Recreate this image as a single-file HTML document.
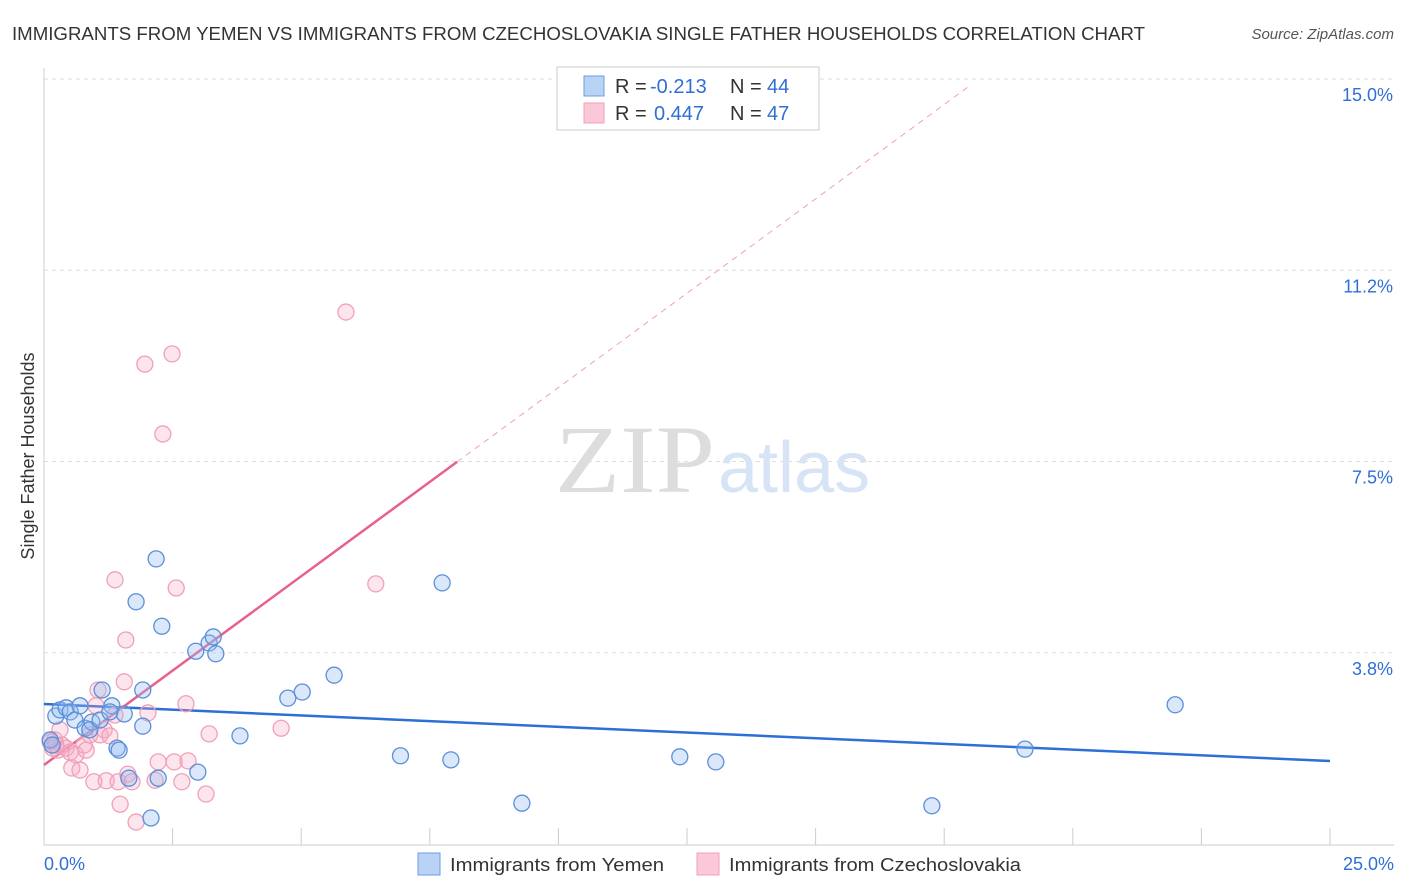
<!DOCTYPE html>
<html><head><meta charset="utf-8"><style>
body{margin:0;background:#fff;font-family:"Liberation Sans",sans-serif;}
svg{display:block}
</style></head><body>
<svg width="1406" height="892" viewBox="0 0 1406 892">
<text x="12" y="40" font-size="18" fill="#333" textLength="1133" lengthAdjust="spacingAndGlyphs">IMMIGRANTS FROM YEMEN VS IMMIGRANTS FROM CZECHOSLOVAKIA SINGLE FATHER HOUSEHOLDS CORRELATION CHART</text>
<text x="1394" y="39" font-size="15" fill="#555" font-style="italic" text-anchor="end">Source: ZipAtlas.com</text>
<g id="grid"></g>
<text x="555" y="492" font-size="96" fill="#ddd" font-family="Liberation Serif,serif" textLength="160" lengthAdjust="spacingAndGlyphs">ZIP</text>
<text x="718" y="492" font-size="72" fill="#d6e4f5">atlas</text>
<text transform="translate(34,456) rotate(-90)" font-size="18" fill="#333" text-anchor="middle">Single Father Households</text>
<g id="lines"></g>
<g id="points"></g>
<rect x="557" y="67" width="262" height="63" fill="#fff" stroke="#ccc"/>
<rect x="584" y="76" width="20" height="20" fill="#b9d3f5" stroke="#6d9de0"/>
<rect x="584" y="103" width="20" height="20" fill="#fac8d8" stroke="#f0a0b8"/>
<g font-size="20">
<text x="615" y="93" fill="#333">R =</text><text x="650" y="93" fill="#2f6fd6">-0.213</text>
<text x="730" y="93" fill="#333">N =</text><text x="767" y="93" fill="#2f6fd6">44</text>
</g>
<g font-size="20">
<text x="615" y="120" fill="#333">R =</text><text x="654" y="120" fill="#2f6fd6">0.447</text>
<text x="730" y="120" fill="#333">N =</text><text x="767" y="120" fill="#2f6fd6">47</text>
</g>
<text x="44" y="870" font-size="18" fill="#2f6fd6">0.0%</text>
<text x="1394" y="870" font-size="18" fill="#2f6fd6" text-anchor="end">25.0%</text>
<rect x="418" y="853" width="22" height="22" fill="#b9d3f5" stroke="#6d9de0"/>
<text x="450" y="871" font-size="18" fill="#333" textLength="214" lengthAdjust="spacingAndGlyphs">Immigrants from Yemen</text>
<rect x="697" y="853" width="22" height="22" fill="#fac8d8" stroke="#f0a0b8"/>
<text x="729" y="871" font-size="18" fill="#333" textLength="292" lengthAdjust="spacingAndGlyphs">Immigrants from Czechoslovakia</text>
</svg>
<script>
const yTicks=[3.75,7.5,11.25,15];
const yTickLabels=["3.8%","7.5%","11.2%","15.0%"];
const xTicks=[2.5,5,7.5,10,12.5,15,17.5,20,22.5,25];
const yemenX=[0.23,0.31,0.43,0.51,0.6,0.70,0.80,0.93,1.13,1.32,1.42,1.46,1.56,1.65,1.79,1.92,1.92,2.08,2.18,2.22,2.29,2.95,2.99,3.21,3.29,3.34,3.81,4.74,5.02,5.64,6.93,7.74,7.91,9.29,12.36,13.06,17.26,19.07,21.99,0.12,0.16,0.89,1.09,1.28];
const yemenY=[2.51,2.63,2.67,2.59,2.43,2.71,2.27,2.39,3.02,2.71,1.88,1.84,2.55,1.29,4.75,3.02,2.31,0.51,5.59,1.29,4.27,3.78,1.41,3.94,4.06,3.73,2.12,2.86,2.98,3.31,1.73,5.12,1.65,0.80,1.71,1.61,0.75,1.86,2.73,2.04,1.94,2.24,2.43,2.59];
const czX=[0.12,0.17,0.21,0.27,0.35,0.43,0.51,0.54,0.62,0.70,0.78,0.82,0.89,0.97,1.01,1.09,1.17,1.21,1.28,1.38,1.44,1.48,1.56,1.59,1.63,1.71,1.79,1.96,2.02,2.16,2.22,2.31,2.49,2.53,2.57,2.68,2.76,2.80,3.15,3.21,4.61,5.87,6.45,1.38,0.31,0.23,1.05];
const czY=[2.00,1.88,2.04,1.84,1.94,1.88,1.80,1.49,1.75,1.45,1.94,1.84,2.14,1.22,2.71,2.14,2.24,1.24,2.12,2.53,1.22,0.78,3.18,4.00,1.37,1.22,0.43,9.41,2.57,1.25,1.61,8.04,9.61,1.61,5.02,1.22,2.75,1.63,0.98,2.16,2.27,10.43,5.10,5.18,2.24,1.94,3.02];
const yemenLine=[2.745,1.627];
const czLine=[1.55,0.74];
const X=v=>44+v*51.44, Y=v=>844-v*51.0;
const NS="http://www.w3.org/2000/svg";
function mk(t,a,p){const e=document.createElementNS(NS,t);for(const k in a)e.setAttribute(k,a[k]);p.appendChild(e);return e;}
const grid=document.getElementById('grid');
yTicks.forEach((t,i)=>{
 const l=mk('line',{x1:44,x2:1394,y1:Y(t),y2:Y(t),stroke:'#ddd','stroke-dasharray':'4,4'},grid);
 
 
 const tx=mk('text',{x:1393,y:Y(t)+22,'font-size':18,fill:'#2f6fd6','text-anchor':'end'},grid);
 tx.textContent=yTickLabels[i];
 
 
});
const ax=mk('line',{x1:44,x2:44,y1:68,y2:845,stroke:'#ccc'},grid);


const bx=mk('line',{x1:44,x2:1394,y1:845,y2:845,stroke:'#ccc'},grid);


xTicks.forEach(t=>{
 const l=mk('line',{x1:X(t),x2:X(t),y1:828,y2:845,stroke:'#ccc'},grid);
 
 
});
const lines=document.getElementById('lines');
const bl=mk('line',{x1:X(0),y1:Y(yemenLine[0]),x2:X(25),y2:Y(yemenLine[1]),stroke:'#2c6fd6','stroke-width':2.5},lines);


const pl=mk('line',{x1:X(0),y1:Y(czLine[0]),x2:X(8.03),y2:Y(czLine[0]+czLine[1]*8.03),stroke:'#e8618c','stroke-width':2.5},lines);


const pd=mk('line',{x1:X(8.03),y1:Y(czLine[0]+czLine[1]*8.03),x2:X(18),y2:Y(czLine[0]+czLine[1]*18),stroke:'#f0a0b8','stroke-width':1,'stroke-dasharray':'6,5'},lines);


const pts=document.getElementById('points');
czX.forEach((x,i)=>{
 const c=mk('circle',{cx:X(x),cy:Y(czY[i]),r:8,fill:'rgba(247,170,195,0.3)',stroke:'#f0a0b8','stroke-width':1.3},pts);
 
 
});
yemenX.forEach((x,i)=>{
 const c=mk('circle',{cx:X(x),cy:Y(yemenY[i]),r:8,fill:'rgba(150,190,240,0.35)',stroke:'#5b8fd9','stroke-width':1.3},pts);
 
 
});
</script>
</body></html>
